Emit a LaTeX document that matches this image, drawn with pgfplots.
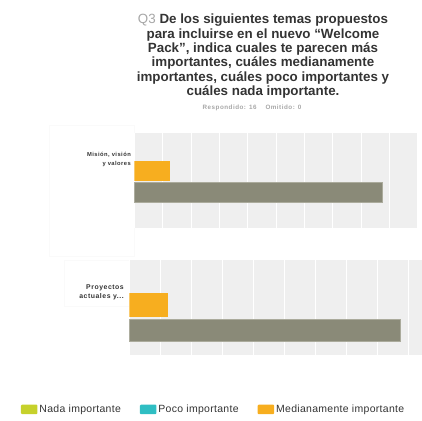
\documentclass[border=0pt]{standalone}
\usepackage{pgfplots}
\pgfplotsset{compat=1.18}
\usepackage{fontspec}
\setmainfont{Liberation Sans}
\newfontfamily\spaced[LetterSpace=8]{Liberation Sans}
\newfontfamily\legfont[LetterSpace=3]{Liberation Sans}

\definecolor{panelbg}{HTML}{EFEFEF}
\definecolor{nada}{HTML}{C6D12B}
\definecolor{poco}{HTML}{2FBEC3}
\definecolor{media}{HTML}{F7AE1F}
\definecolor{muy}{HTML}{8A8A78}
\definecolor{muyedge}{HTML}{ABAB9C}
\definecolor{titlecol}{HTML}{333333}
\definecolor{qcol}{HTML}{A6A6A6}

\pgfplotsset{
  panel/.style={
    anchor=south west, scale only axis,
    xmin=0, xmax=100, ymin=0,
    axis background/.style={fill=panelbg},
    axis line style={draw=none}, tick style={draw=none},
    xtick={0,10,...,100}, xticklabels={}, ytick=\empty,
    xmajorgrids, major grid style={white, line width=0.9bp},
  },
}

\begin{document}
\begin{tikzpicture}
\path[use as bounding box] (0bp,0bp) rectangle (422bp,421bp);
\clip (0bp,0bp) rectangle (422bp,421bp);

% title
\node[anchor=north, align=center, inner sep=0pt, text=titlecol,
      font=\fontsize{13.4}{14.4}\selectfont\bfseries] at (263bp,407bp)
  {{\mdseries\color{qcol}Q3} De los siguientes temas propuestos\\
   para incluirse en el nuevo “Welcome\\
   Pack”, indica cuales te parecen más\\
   importantes, cuáles medianamente\\
   importantes, cuáles poco importantes y\\
   cuáles nada importante.};
\node[text=qcol, font=\spaced\fontsize{6.3}{7}\selectfont\bfseries, inner sep=0pt]
  at (252bp,313bp) {Respondido: 16\hspace{9bp}Omitido: 0};

% faint label boxes
\draw[gray!4, line width=0.6bp] (49bp,296bp) rectangle (134bp,164.3bp);
\draw[gray!4, line width=0.6bp] (64bp,161bp) rectangle (129bp,114.3bp);

% panel 1
\begin{axis}[panel, at={(134.3bp,192.7bp)}, width=283.4bp, height=95.6bp, ymax=95.6]
  \addplot[xbar, bar width=20bp, fill=media, draw=none] coordinates {(12.5,57.6)};
  \addplot[xbar, bar width=20.7bp, fill=muy, draw=muyedge, line width=0.7bp] coordinates {(87.5,35.95)};
\end{axis}
\node[anchor=east, align=right, inner sep=0pt, text=titlecol,
      font=\spaced\fontsize{5.8}{8.3}\selectfont\bfseries] at (131bp,261.5bp)
  {Misión, visión\\y valores};

% panel 2, carries the legend
\begin{axis}[panel, at={(129.3bp,66.5bp)}, width=310bp, height=94.5bp, ymax=94.5,
  legend columns=3, legend cell align=left,
  legend image code/.code={\fill[#1, draw=none, rounded corners=1bp] (0bp,-4.8bp) rectangle (16.5bp,4.8bp);},
  legend style={at={(-0.35,-0.51)}, anchor=north west, draw=none, fill=none,
    font=\legfont\fontsize{10.5}{12}\selectfont, text=titlecol,
    inner sep=0pt, row sep=7.5bp,
    /tikz/every even column/.append style={column sep=17bp}},
  ]
  \addlegendimage{fill=nada}
  \addlegendentry{Nada importante}
  \addlegendimage{fill=poco}
  \addlegendentry{Poco importante}
  \addplot[xbar, bar width=23.4bp, fill=media, draw=none] coordinates {(12.5,49.5)};
  \addlegendentry{Medianamente importante}
  \addplot[xbar, bar width=22.7bp, fill=muy, draw=muyedge, line width=0.7bp] coordinates {(87.5,24.2)};
  \addlegendentry{Muy importante}
\end{axis}
\node[anchor=east, align=right, inner sep=0pt, text=titlecol,
      font=\spaced\fontsize{6.9}{9}\selectfont\bfseries] at (124bp,129bp)
  {Proyectos\\actuales y...};
\end{tikzpicture}
\end{document}
